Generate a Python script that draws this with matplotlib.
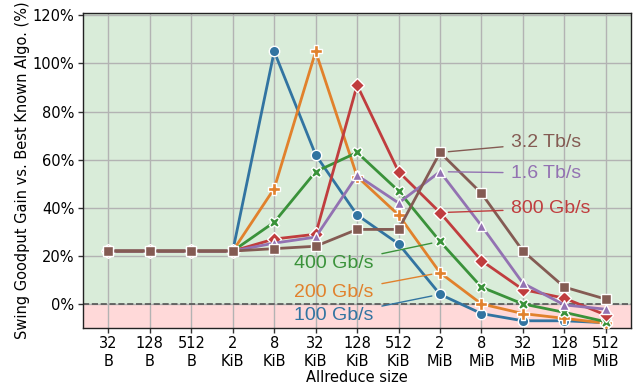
import matplotlib
matplotlib.use("Agg")
import matplotlib.pyplot as plt

sizes = ["32\nB", "128\nB", "512\nB", "2\nKiB", "8\nKiB", "32\nKiB", "128\nKiB",
         "512\nKiB", "2\nMiB", "8\nMiB", "32\nMiB", "128\nMiB", "512\nMiB"]

gain_100g = [22, 22, 22, 22, 105, 62, 37, 25, 4, -4, -7, -7, -7.8]
gain_200g = [22, 22, 22, 22, 48, 105, 53, 37, 13, 0, -4, -6, -8]
gain_400g = [22, 22, 22, 22, 34, 55, 63, 47, 26, 7, 0, -3.5, -7.4]
gain_800g = [22, 22, 22, 22, 27, 29, 91, 55, 38, 18, 6, 2.4, -4.6]
gain_1600g = [22, 22, 22, 22, 25.3, 27.8, 53.5, 42, 55, 32.5, 8.6, -0.4, -2.2]
gain_3200g = [22, 22, 22, 22, 23, 24, 31, 31, 63, 46, 22, 7, 2]

series_labels = ["100 Gb/s", "200 Gb/s", "400 Gb/s", "800 Gb/s", "1.6 Tb/s", "3.2 Tb/s"]
series_values = [gain_100g, gain_200g, gain_400g, gain_800g, gain_1600g, gain_3200g]
colors = ["#3274a1", "#e1812c", "#3a923a", "#c03d3e", "#9372b2", "#845b53"]
markers = ["o", "P", "X", "D", "^", "s"]
marker_sizes = [7.5, 8, 7.5, 7, 7.5, 7]

# label placement (data coords) and the size index each label points at
label_pos = [(6.4, -4.9, "right"), (6.4, 4.7, "right"), (6.4, 16.7, "right"),
             (9.72, 39.6, "left"), (9.72, 54.4, "left"), (9.72, 67.0, "left")]
label_anchor_idx = 8

fig = plt.figure(figsize=(6.44, 3.89), dpi=100)
ax = fig.add_axes([0.1284, 0.1568, 0.8516, 0.8098])

x = list(range(len(sizes)))
ax.set_xlim(-0.62, 12.61)
ax.set_ylim(-10, 121)

ax.axhspan(0, 121, color="green", alpha=0.15, lw=0, zorder=0)
ax.axhspan(-10, 0, color="red", alpha=0.15, lw=0, zorder=0)
ax.grid(True, color="#b3b3b3", lw=1.0, zorder=1)
ax.set_axisbelow(True)
ax.axhline(0, color="#555555", ls="--", lw=1.2, zorder=2)

for vals, col, mk, ms in zip(series_values, colors, markers, marker_sizes):
    ax.plot(x, vals, color=col, lw=2.0, marker=mk, markersize=ms,
            markeredgecolor="white", markeredgewidth=1.0, zorder=3)

for lab, vals, col, (tx, ty, ha) in zip(series_labels, series_values, colors, label_pos):
    ax.annotate(lab, xy=(label_anchor_idx, vals[label_anchor_idx]), xytext=(tx, ty),
                ha=ha, va="center", color=col, fontsize=14,
                fontfamily="Liberation Sans",
                arrowprops=dict(arrowstyle="-", color=col, lw=1.0,
                                shrinkA=4, shrinkB=6),
                zorder=5)

ax.set_xticks(x)
ax.set_xticklabels(sizes, fontsize=10.5)
yt = [0, 20, 40, 60, 80, 100, 120]
ax.set_yticks(yt)
ax.set_yticklabels([f"{v}%" for v in yt], fontsize=10.5)
ax.tick_params(length=3.5, width=1, color="#333333", pad=2.5)
ax.set_xlabel("Allreduce size", fontsize=10.5, labelpad=1)
ax.set_ylabel("Swing Goodput Gain vs. Best Known Algo. (%)", fontsize=10.5, labelpad=2)

for sp in ax.spines.values():
    sp.set_color("#222222")
    sp.set_linewidth(1.0)

fig.savefig("out.png", dpi=100)
